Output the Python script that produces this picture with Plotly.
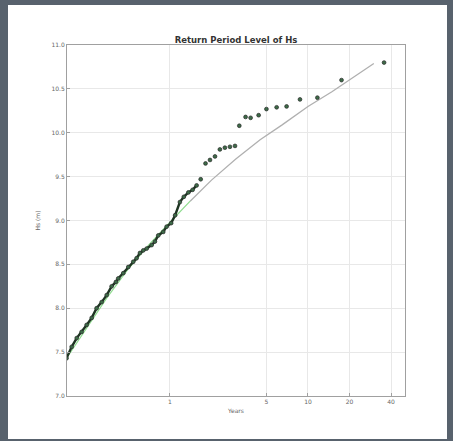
import plotly.graph_objects as go

# Empirical return levels (years, Hs in m)
obs_years = [0.178, 0.194, 0.211, 0.229, 0.249, 0.271, 0.294, 0.320, 0.348, 0.378,
             0.406, 0.422, 0.459, 0.499, 0.542, 0.573, 0.606, 0.641, 0.678, 0.737,
             0.778, 0.823, 0.894, 0.946, 1.02, 1.09, 1.18, 1.26, 1.36, 1.46,
             1.56, 1.67, 1.81, 1.95, 2.12, 2.30, 2.50, 2.72, 2.96, 3.18,
             3.53, 3.84, 4.39, 5.0, 5.93, 7.0, 8.75, 11.7, 17.5, 35.6]
obs_hs = [7.43, 7.56, 7.66, 7.73, 7.81, 7.89, 8.00, 8.07, 8.15, 8.25,
          8.30, 8.34, 8.40, 8.47, 8.53, 8.57, 8.63, 8.66, 8.68, 8.72,
          8.76, 8.83, 8.87, 8.93, 8.97, 9.06, 9.21, 9.27, 9.32, 9.35,
          9.40, 9.47, 9.65, 9.69, 9.73, 9.81, 9.83, 9.84, 9.85, 10.08,
          10.18, 10.17, 10.20, 10.27, 10.29, 10.30, 10.38, 10.40, 10.60, 10.80]
dense_count = 31  # the closely packed low-period points, drawn as a thick trace

# Fitted return-level curve
fit_years = [0.178, 0.25, 0.35, 0.5, 0.7, 1.0, 1.4, 2.0, 3.0, 4.5, 6.5, 10, 15, 20, 30]
fit_hs = [7.43, 7.78, 8.12, 8.45, 8.72, 8.98, 9.22, 9.46, 9.70, 9.92, 10.09, 10.30, 10.47, 10.60, 10.79]
fit_split = 7  # green for the short-period part, grey beyond

x_ticks = [1, 5, 10, 20, 40]
x_ticklabels = ["1", "5", "10", "20", "40"]
y_ticks = [7.0, 7.5, 8.0, 8.5, 9.0, 9.5, 10.0, 10.5, 11.0]
y_ticklabels = ["7.0", "7.5", "8.0", "8.5", "9.0", "9.5", "10.0", "10.5", "11.0"]

W, H = 453, 441
L, R, T, B = 67, 405, 45, 396


def px(x):
    return (x - L) / (R - L)


def py(y):
    return (B - y) / (B - T)


fig = go.Figure()

fig.add_trace(go.Scatter(x=fit_years[fit_split - 1:], y=fit_hs[fit_split - 1:], mode="lines",
                         line=dict(color="#b0b0b0", width=1.3), showlegend=False))
fig.add_trace(go.Scatter(x=fit_years[:fit_split], y=fit_hs[:fit_split], mode="lines",
                         line=dict(color="#8fdc8f", width=1.2), showlegend=False))
fig.add_trace(go.Scatter(x=obs_years[:dense_count], y=obs_hs[:dense_count], mode="lines",
                         line=dict(color="#1e3522", width=2.4), showlegend=False))
fig.add_trace(go.Scatter(x=obs_years, y=obs_hs, mode="markers",
                         marker=dict(size=3.8, color="#3d6b48", line=dict(color="#2a2a2a", width=0.7)),
                         showlegend=False))

# dark frame around the white figure panel
frame = "#58626d"
for x0, x1, y0, y1 in [(0, 8, 0, H), (447, W, 0, H), (0, W, 0, 5), (0, W, 439, H)]:
    fig.add_shape(type="rect", xref="paper", yref="paper",
                  x0=px(x0), x1=px(x1), y0=py(y1), y1=py(y0),
                  fillcolor=frame, line=dict(width=0), layer="above")

fig.update_layout(
    width=W, height=H,
    margin=dict(l=L, r=W - R, t=T, b=H - B),
    paper_bgcolor="white",
    plot_bgcolor="white",
    font=dict(family="DejaVu Sans", size=6, color="#666"),
    title=dict(text="<b>Return Period Level of Hs</b>", x=236 / W, xanchor="center",
               y=1 - 40 / H, yanchor="middle", font=dict(size=8.5, color="#333")),
    xaxis=dict(type="log", range=[-0.746, 1.703], tickvals=x_ticks, ticktext=x_ticklabels,
               showgrid=True, gridcolor="#e8e8e8", gridwidth=1,
               showline=True, linecolor="#a0a0a0", linewidth=1, mirror=True,
               ticks="inside", ticklen=3, tickcolor="#a0a0a0", zeroline=False,
               tickfont=dict(color="#666"),
               title=dict(text="Years", font=dict(size=6, color="#666"), standoff=4)),
    yaxis=dict(range=[7.0, 11.0], tickvals=y_ticks, ticktext=y_ticklabels,
               showgrid=True, gridcolor="#e8e8e8", gridwidth=1,
               showline=True, linecolor="#a0a0a0", linewidth=1, mirror=True,
               ticks="inside", ticklen=3, tickcolor="#a0a0a0", zeroline=False,
               tickfont=dict(color="#666"),
               title=dict(text="Hs (m)", font=dict(size=6, color="#666"), standoff=10)),
)

fig.write_html("out.html", config={"displayModeBar": False},
               post_script="document.body.style.margin='0';document.body.style.padding='0';"
                           "document.documentElement.style.overflow='hidden';")
